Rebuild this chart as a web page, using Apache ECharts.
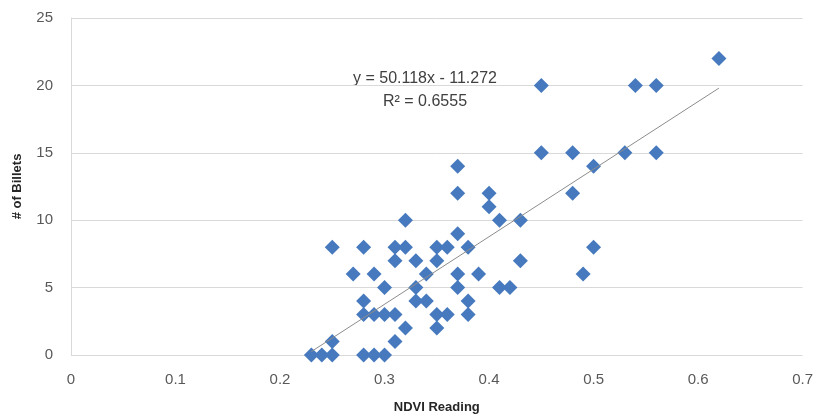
<!DOCTYPE html>
<html>
<head>
<meta charset="utf-8">
<script src="https://cdn.jsdelivr.net/npm/echarts@6/dist/echarts.min.js"></script>
<style>
  html, body { margin: 0; padding: 0; background: #fff; }
  #chart { width: 816px; height: 420px; }
</style>
</head>
<body>
<div id="chart"></div>
<script>
// NDVI reading vs number of billets
const ndvi = [
  0.23, 0.24, 0.25, 0.25, 0.25, 0.27, 0.28, 0.28, 0.28, 0.28,
  0.29, 0.29, 0.29, 0.30, 0.30, 0.30, 0.31, 0.31, 0.31, 0.31,
  0.32, 0.32, 0.32, 0.33, 0.33, 0.33, 0.34, 0.34, 0.35, 0.35,
  0.35, 0.35, 0.36, 0.36, 0.37, 0.37, 0.37, 0.37, 0.37, 0.38,
  0.38, 0.38, 0.39, 0.40, 0.40, 0.41, 0.41, 0.42, 0.43, 0.43,
  0.45, 0.45, 0.48, 0.48, 0.49, 0.50, 0.50, 0.53, 0.54, 0.56,
  0.56, 0.62
];
const billets = [
  0, 0, 0, 1, 8, 6, 8, 4, 3, 0,
  0, 6, 3, 5, 3, 0, 1, 3, 7, 8,
  10, 8, 2, 7, 5, 4, 6, 4, 8, 7,
  3, 2, 8, 3, 14, 12, 9, 6, 5, 8,
  4, 3, 6, 12, 11, 10, 5, 5, 10, 7,
  20, 15, 15, 12, 6, 14, 8, 15, 20, 20,
  15, 22
];

// linear trendline (from the chart's equation)
const slope = 50.118;
const intercept = -11.272;
const trendLabel = ["y = 50.118x - 11.272", "R\u00b2 = 0.6555"];

const xTicks = { min: 0, max: 0.7, interval: 0.1 };
const yTicks = { min: 0, max: 25, interval: 5 };

const points = ndvi.map((x, i) => [x, billets[i]]);
const xMin = Math.min(...ndvi);
const xMax = Math.max(...ndvi);
const trend = [
  [xMin, slope * xMin + intercept],
  [xMax, slope * xMax + intercept],
];

const font = "'Liberation Sans', sans-serif";
const chart = echarts.init(document.getElementById("chart"));

chart.setOption({
  animation: false,
  textStyle: { fontFamily: font },
  grid: { left: 71, right: 13, top: 18, bottom: 65 },
  xAxis: {
    type: "value",
    min: xTicks.min,
    max: xTicks.max,
    interval: xTicks.interval,
    name: "NDVI Reading",
    nameLocation: "middle",
    nameGap: 46,
    nameTextStyle: { fontWeight: "bold", fontSize: 13, color: "#262626", fontFamily: font },
    axisLine: { show: false },
    axisTick: { show: false },
    splitLine: { show: false },
    axisLabel: {
      color: "#595959",
      fontSize: 15,
      margin: 17,
      formatter: (v) => String(Math.round(v * 10) / 10),
    },
  },
  yAxis: {
    type: "value",
    min: yTicks.min,
    max: yTicks.max,
    interval: yTicks.interval,
    name: "# of Billets",
    nameLocation: "middle",
    nameRotate: 90,
    nameGap: 47,
    nameTextStyle: { fontWeight: "bold", fontSize: 13, color: "#262626", fontFamily: font },
    axisLine: { show: true, lineStyle: { color: "#d9d9d9", width: 1 } },
    axisTick: { show: false },
    splitLine: { show: true, lineStyle: { color: "#d9d9d9", width: 1 } },
    axisLabel: { color: "#595959", fontSize: 15, margin: 18 },
  },
  series: [
    {
      type: "scatter",
      data: points,
      symbol: "diamond",
      symbolSize: 15,
      itemStyle: { color: "#4679bd", opacity: 1 },
      z: 3,
    },
    {
      type: "line",
      data: trend,
      symbol: "none",
      lineStyle: { color: "#8c8c8c", width: 1 },
      z: 4,
    },
  ],
  graphic: [
    {
      type: "text",
      x: 425,
      y: 71,
      style: { text: trendLabel[0], font: "16px " + font, fill: "#404040", align: "center" },
    },
    {
      type: "text",
      x: 425,
      y: 94,
      style: { text: trendLabel[1], font: "16px " + font, fill: "#404040", align: "center" },
    },
  ],
});
</script>
</body>
</html>
